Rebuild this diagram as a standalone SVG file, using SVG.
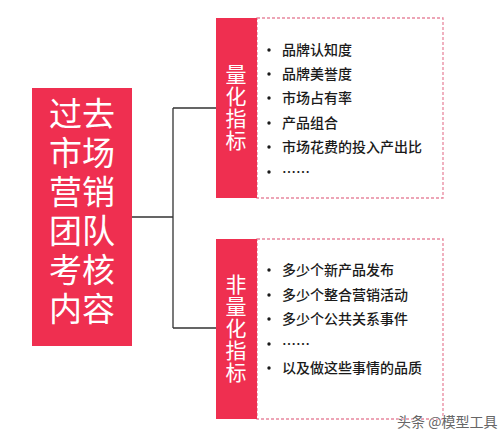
<svg xmlns="http://www.w3.org/2000/svg" width="500" height="441" viewBox="0 0 500 441">
<style>
.red{fill:#ef2f50;}
.box{fill:#ffffff;stroke:#e8889e;stroke-width:1.3;stroke-dasharray:3 2;}
.big{font-family:"Liberation Sans","Noto Sans CJK SC",sans-serif;font-size:33px;fill:#ffffff;text-anchor:middle;}
.vert{font-family:"Noto Sans CJK SC","Noto Sans",sans-serif;font-size:21px;fill:#ffffff;writing-mode:vertical-rl;text-orientation:upright;letter-spacing:1px;}
.item{font-family:"Noto Sans CJK SC","Noto Sans",sans-serif;font-size:14px;font-weight:500;fill:#1a1a1a;}
.dot{fill:#1a1a1a;}
.conn{fill:none;stroke:#333333;stroke-width:1.3;}
.wm{font-family:"Noto Sans CJK SC","Noto Sans",sans-serif;font-size:14px;fill:#666666;stroke:#ffffff;stroke-width:0.6;paint-order:stroke;}
</style>
<rect width="500" height="441" fill="#ffffff"/>
<g id="connectors">
<path class="conn" d="M132,217 H173 M173,108 V328 M173,108 H216 M173,328 H216"/>
</g>
<g id="main">
<rect class="red" x="32" y="88" width="100" height="258"/>
<text class="big" x="82" y="126">过去</text>
<text class="big" x="82" y="165">市场</text>
<text class="big" x="82" y="204">营销</text>
<text class="big" x="82" y="243">团队</text>
<text class="big" x="82" y="282">考核</text>
<text class="big" x="82" y="321">内容</text>
</g>
<g id="quant">
<rect class="box" x="257" y="18" width="186" height="180"/>
<rect class="red" x="216" y="18" width="41" height="180"/>
<text class="vert" x="236" y="64">量化指标</text>
<circle class="dot" cx="269" cy="50" r="1.7"/>
<circle class="dot" cx="269" cy="74" r="1.7"/>
<circle class="dot" cx="269" cy="98" r="1.7"/>
<circle class="dot" cx="269" cy="123" r="1.7"/>
<circle class="dot" cx="269" cy="147" r="1.7"/>
<circle class="dot" cx="269" cy="172" r="1.7"/>
<text class="item" x="282" y="55">品牌认知度</text>
<text class="item" x="282" y="79">品牌美誉度</text>
<text class="item" x="282" y="103">市场占有率</text>
<text class="item" x="282" y="128">产品组合</text>
<text class="item" x="282" y="152">市场花费的投入产出比</text>
<text class="item" x="282" y="177">……</text>
</g>
<g id="nonquant">
<rect class="box" x="257" y="239" width="186" height="180"/>
<rect class="red" x="216" y="239" width="41" height="180"/>
<text class="vert" x="236" y="274">非量化指标</text>
<circle class="dot" cx="269" cy="270" r="1.7"/>
<circle class="dot" cx="269" cy="295" r="1.7"/>
<circle class="dot" cx="269" cy="319" r="1.7"/>
<circle class="dot" cx="269" cy="344" r="1.7"/>
<circle class="dot" cx="269" cy="368" r="1.7"/>
<text class="item" x="282" y="275">多少个新产品发布</text>
<text class="item" x="282" y="300">多少个整合营销活动</text>
<text class="item" x="282" y="324">多少个公共关系事件</text>
<text class="item" x="282" y="349">……</text>
<text class="item" x="282" y="373">以及做这些事情的品质</text>
</g>
<text class="wm" x="397" y="427">头条 @模型工具</text>
</svg>
